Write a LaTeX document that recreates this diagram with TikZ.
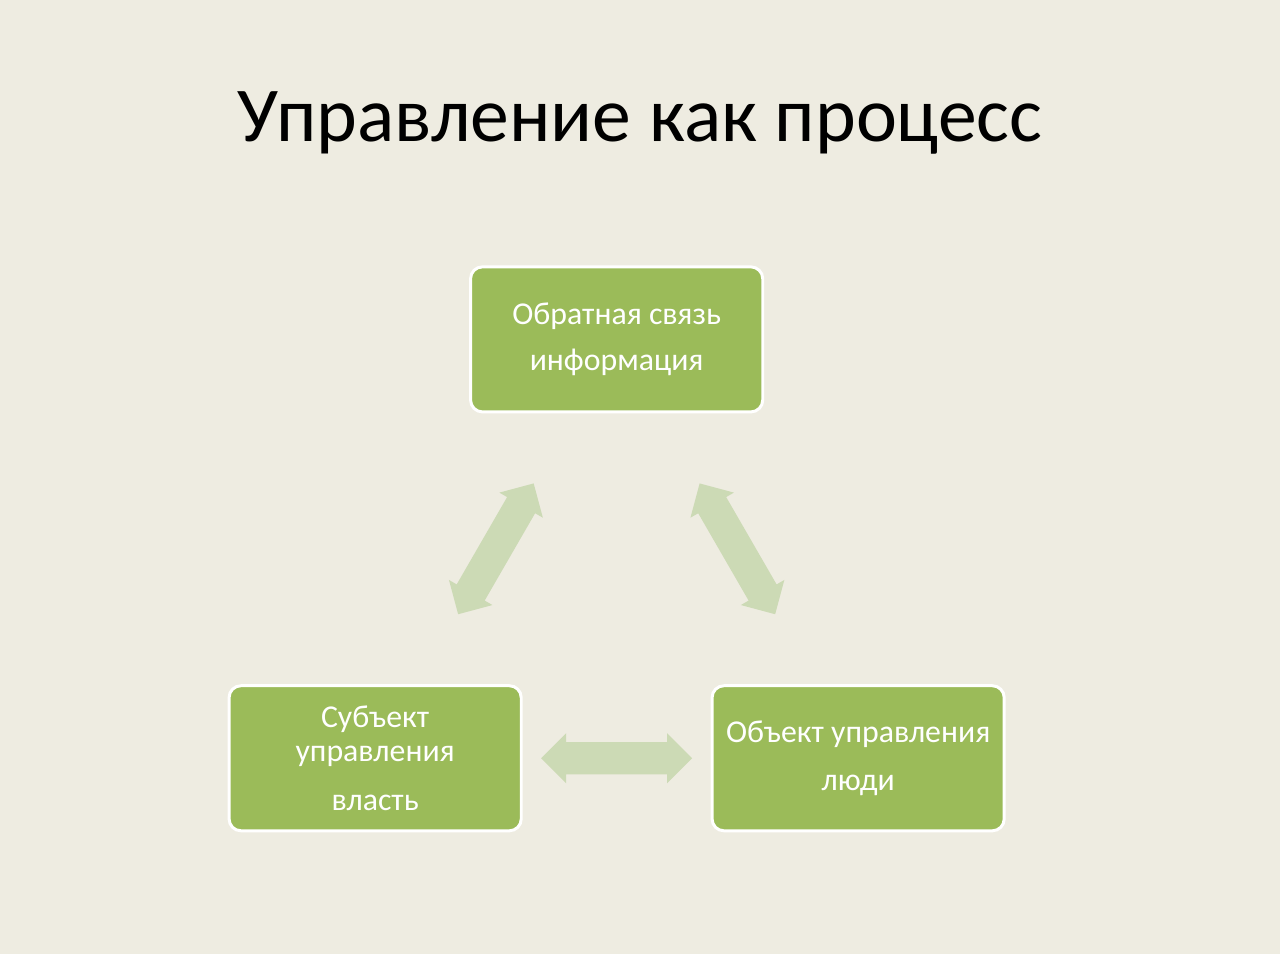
\documentclass[tikz,border=0pt]{standalone}
\usepackage{fontspec}
\setmainfont{Carlito}
\usetikzlibrary{shapes.arrows,calc}
\definecolor{bg}{HTML}{EEECE1}
\definecolor{boxgreen}{HTML}{9BBB59}
\definecolor{arrowgreen}{HTML}{CCDAB5}
\tikzset{
  box/.style={draw=white, line width=2.25pt, fill=boxgreen, rounded corners=9pt,
    minimum width=220.5pt, minimum height=109.5pt, inner sep=0pt, align=center,
    text=white, font=\fontsize{24}{25.5}\selectfont},
  darrow/.style={double arrow, fill=arrowgreen, draw=none, inner xsep=0pt, inner ysep=12pt,
    minimum height=114pt, double arrow head extend=6.75pt,
    double arrow tip angle=90},
  title/.style={font=\fontsize{58.6}{64}\selectfont, text=black, anchor=base}
}
\begin{document}
\begin{tikzpicture}[x=0.75pt,y=-0.75pt]
\fill[bg] (-4,-4) rectangle (1284,956);
\useasboundingbox (0,0) rectangle (1280,952);
\node[title] (t) at (640,138) {Управление как процесс};
\node[box] (top) at (616.5,337.5) {Обратная связь\\[9.5pt]информация};
\node[box] (left) at (373.5,759) {Субъект\\управления\\[12pt]власть};
\node[box] (right) at (859.5,759) {Объект управления\\[10.5pt]люди};
\node[darrow, rotate=60] (a1) at ($(left)!0.5!(top)$) {};
\node[darrow, rotate=-60] (a2) at ($(right)!0.5!(top)$) {};
\node[darrow] (a3) at ($(left)!0.5!(right)$) {};
\end{tikzpicture}
\end{document}
